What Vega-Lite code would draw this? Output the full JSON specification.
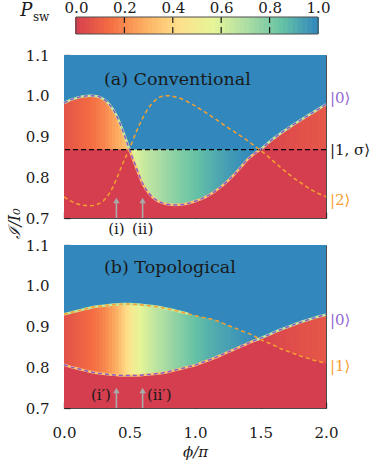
{
"$schema": "https://vega.github.io/schema/vega-lite/v6.json",
"padding": {"left": 5, "top": 0, "right": 0, "bottom": 2},
"background": "white",
"config": {
 "font": "DejaVu Serif",
 "view": {"stroke": "#4d4d4d", "strokeWidth": 1},
 "axis": {"labelFont": "DejaVu Serif", "labelFontSize": 15, "labelColor": "#1a1a1a", "titleFont": "DejaVu Serif", "titleFontSize": 15, "titleFontWeight": "normal", "titleColor": "#1a1a1a", "domain": false, "grid": false, "tickColor": "#262626", "tickWidth": 1.3, "tickSize": -6, "zindex": 1, "labelFlush": false, "labelOverlap": false},
 "text": {"font": "DejaVu Serif", "fontSize": 15, "color": "#1a1a1a"}
},
"datasets": {
 "cbar": [
  {"a":0.00,"b":0.02,"c":0.01},{"a":0.02,"b":0.04,"c":0.03},{"a":0.04,"b":0.06,"c":0.05},{"a":0.06,"b":0.08,"c":0.07},{"a":0.08,"b":0.10,"c":0.09},
  {"a":0.10,"b":0.12,"c":0.11},{"a":0.12,"b":0.14,"c":0.13},{"a":0.14,"b":0.16,"c":0.15},{"a":0.16,"b":0.18,"c":0.17},{"a":0.18,"b":0.20,"c":0.19},
  {"a":0.20,"b":0.22,"c":0.21},{"a":0.22,"b":0.24,"c":0.23},{"a":0.24,"b":0.26,"c":0.25},{"a":0.26,"b":0.28,"c":0.27},{"a":0.28,"b":0.30,"c":0.29},
  {"a":0.30,"b":0.32,"c":0.31},{"a":0.32,"b":0.34,"c":0.33},{"a":0.34,"b":0.36,"c":0.35},{"a":0.36,"b":0.38,"c":0.37},{"a":0.38,"b":0.40,"c":0.39},
  {"a":0.40,"b":0.42,"c":0.41},{"a":0.42,"b":0.44,"c":0.43},{"a":0.44,"b":0.46,"c":0.45},{"a":0.46,"b":0.48,"c":0.47},{"a":0.48,"b":0.50,"c":0.49},
  {"a":0.50,"b":0.52,"c":0.51},{"a":0.52,"b":0.54,"c":0.53},{"a":0.54,"b":0.56,"c":0.55},{"a":0.56,"b":0.58,"c":0.57},{"a":0.58,"b":0.60,"c":0.59},
  {"a":0.60,"b":0.62,"c":0.61},{"a":0.62,"b":0.64,"c":0.63},{"a":0.64,"b":0.66,"c":0.65},{"a":0.66,"b":0.68,"c":0.67},{"a":0.68,"b":0.70,"c":0.69},
  {"a":0.70,"b":0.72,"c":0.71},{"a":0.72,"b":0.74,"c":0.73},{"a":0.74,"b":0.76,"c":0.75},{"a":0.76,"b":0.78,"c":0.77},{"a":0.78,"b":0.80,"c":0.79},
  {"a":0.80,"b":0.82,"c":0.81},{"a":0.82,"b":0.84,"c":0.83},{"a":0.84,"b":0.86,"c":0.85},{"a":0.86,"b":0.88,"c":0.87},{"a":0.88,"b":0.90,"c":0.89},
  {"a":0.90,"b":0.92,"c":0.91},{"a":0.92,"b":0.94,"c":0.93},{"a":0.94,"b":0.96,"c":0.95},{"a":0.96,"b":0.98,"c":0.97},{"a":0.98,"b":1.00,"c":0.99}
 ],
 "colsA": [
  {"a":0,"b":0.025,"p":0.07},{"a":0.025,"b":0.05,"p":0.075},{"a":0.05,"b":0.075,"p":0.085},{"a":0.075,"b":0.1,"p":0.095},
  {"a":0.1,"b":0.125,"p":0.105},{"a":0.125,"b":0.15,"p":0.115},{"a":0.15,"b":0.175,"p":0.125},{"a":0.175,"b":0.2,"p":0.135},
  {"a":0.2,"b":0.225,"p":0.145},{"a":0.225,"b":0.25,"p":0.155},{"a":0.25,"b":0.275,"p":0.17},{"a":0.275,"b":0.3,"p":0.185},
  {"a":0.3,"b":0.325,"p":0.2},{"a":0.325,"b":0.35,"p":0.22},{"a":0.35,"b":0.375,"p":0.24},{"a":0.375,"b":0.4,"p":0.26},
  {"a":0.4,"b":0.425,"p":0.28},{"a":0.425,"b":0.45,"p":0.3},{"a":0.45,"b":0.475,"p":0.32},{"a":0.475,"b":0.5,"p":0.34},
  {"a":0.5,"b":0.525,"p":0.55},{"a":0.525,"b":0.55,"p":0.575},{"a":0.55,"b":0.575,"p":0.6},{"a":0.575,"b":0.6,"p":0.62},
  {"a":0.6,"b":0.625,"p":0.64},{"a":0.625,"b":0.65,"p":0.66},{"a":0.65,"b":0.675,"p":0.675},{"a":0.675,"b":0.7,"p":0.69},
  {"a":0.7,"b":0.725,"p":0.7},{"a":0.725,"b":0.75,"p":0.715},{"a":0.75,"b":0.775,"p":0.73},{"a":0.775,"b":0.8,"p":0.745},
  {"a":0.8,"b":0.825,"p":0.76},{"a":0.825,"b":0.85,"p":0.77},{"a":0.85,"b":0.875,"p":0.785},{"a":0.875,"b":0.9,"p":0.795},
  {"a":0.9,"b":0.925,"p":0.81},{"a":0.925,"b":0.95,"p":0.82},{"a":0.95,"b":0.975,"p":0.83},{"a":0.975,"b":1.0,"p":0.845},
  {"a":1.0,"b":1.025,"p":0.855},{"a":1.025,"b":1.05,"p":0.865},{"a":1.05,"b":1.075,"p":0.875},{"a":1.075,"b":1.1,"p":0.885},
  {"a":1.1,"b":1.125,"p":0.895},{"a":1.125,"b":1.15,"p":0.905},{"a":1.15,"b":1.175,"p":0.915},{"a":1.175,"b":1.2,"p":0.925},
  {"a":1.2,"b":1.225,"p":0.93},{"a":1.225,"b":1.25,"p":0.94},{"a":1.25,"b":1.275,"p":0.95},{"a":1.275,"b":1.3,"p":0.955},
  {"a":1.3,"b":1.325,"p":0.965},{"a":1.325,"b":1.35,"p":0.97},{"a":1.35,"b":1.375,"p":0.98},{"a":1.375,"b":1.4,"p":0.985},
  {"a":1.4,"b":1.425,"p":0.99},{"a":1.425,"b":1.45,"p":1},{"a":1.45,"b":1.475,"p":1},{"a":1.475,"b":1.5,"p":1},
  {"a":1.5,"b":1.525,"p":0.01},{"a":1.525,"b":1.55,"p":0.015},{"a":1.55,"b":1.575,"p":0.02},{"a":1.575,"b":1.6,"p":0.025},
  {"a":1.6,"b":1.625,"p":0.03},{"a":1.625,"b":1.65,"p":0.035},{"a":1.65,"b":1.675,"p":0.04},{"a":1.675,"b":1.7,"p":0.04},
  {"a":1.7,"b":1.725,"p":0.045},{"a":1.725,"b":1.75,"p":0.05},{"a":1.75,"b":1.775,"p":0.05},{"a":1.775,"b":1.8,"p":0.055},
  {"a":1.8,"b":1.825,"p":0.06},{"a":1.825,"b":1.85,"p":0.06},{"a":1.85,"b":1.875,"p":0.065},{"a":1.875,"b":1.9,"p":0.065},
  {"a":1.9,"b":1.925,"p":0.07},{"a":1.925,"b":1.95,"p":0.07},{"a":1.95,"b":1.975,"p":0.075},{"a":1.975,"b":2.0,"p":0.075}
 ],
 "colsB": [
  {"a":0,"b":0.025,"p":0.06},{"a":0.025,"b":0.05,"p":0.07},{"a":0.05,"b":0.075,"p":0.08},{"a":0.075,"b":0.1,"p":0.09},
  {"a":0.1,"b":0.125,"p":0.1},{"a":0.125,"b":0.15,"p":0.11},{"a":0.15,"b":0.175,"p":0.12},{"a":0.175,"b":0.2,"p":0.13},
  {"a":0.2,"b":0.225,"p":0.14},{"a":0.225,"b":0.25,"p":0.15},{"a":0.25,"b":0.275,"p":0.165},{"a":0.275,"b":0.3,"p":0.18},
  {"a":0.3,"b":0.325,"p":0.2},{"a":0.325,"b":0.35,"p":0.22},{"a":0.35,"b":0.375,"p":0.245},{"a":0.375,"b":0.4,"p":0.27},
  {"a":0.4,"b":0.425,"p":0.3},{"a":0.425,"b":0.45,"p":0.34},{"a":0.45,"b":0.475,"p":0.38},{"a":0.475,"b":0.5,"p":0.42},
  {"a":0.5,"b":0.525,"p":0.46},{"a":0.525,"b":0.55,"p":0.5},{"a":0.55,"b":0.575,"p":0.535},{"a":0.575,"b":0.6,"p":0.565},
  {"a":0.6,"b":0.625,"p":0.59},{"a":0.625,"b":0.65,"p":0.615},{"a":0.65,"b":0.675,"p":0.635},{"a":0.675,"b":0.7,"p":0.655},
  {"a":0.7,"b":0.725,"p":0.675},{"a":0.725,"b":0.75,"p":0.69},{"a":0.75,"b":0.775,"p":0.705},{"a":0.775,"b":0.8,"p":0.72},
  {"a":0.8,"b":0.825,"p":0.74},{"a":0.825,"b":0.85,"p":0.755},{"a":0.85,"b":0.875,"p":0.77},{"a":0.875,"b":0.9,"p":0.785},
  {"a":0.9,"b":0.925,"p":0.8},{"a":0.925,"b":0.95,"p":0.815},{"a":0.95,"b":0.975,"p":0.83},{"a":0.975,"b":1.0,"p":0.845},
  {"a":1.0,"b":1.025,"p":0.86},{"a":1.025,"b":1.05,"p":0.87},{"a":1.05,"b":1.075,"p":0.88},{"a":1.075,"b":1.1,"p":0.89},
  {"a":1.1,"b":1.125,"p":0.9},{"a":1.125,"b":1.15,"p":0.905},{"a":1.15,"b":1.175,"p":0.915},{"a":1.175,"b":1.2,"p":0.92},
  {"a":1.2,"b":1.225,"p":0.93},{"a":1.225,"b":1.25,"p":0.935},{"a":1.25,"b":1.275,"p":0.94},{"a":1.275,"b":1.3,"p":0.95},
  {"a":1.3,"b":1.325,"p":0.955},{"a":1.325,"b":1.35,"p":0.96},{"a":1.35,"b":1.375,"p":0.97},{"a":1.375,"b":1.4,"p":0.975},
  {"a":1.4,"b":1.425,"p":0.98},{"a":1.425,"b":1.45,"p":0.99},{"a":1.45,"b":1.475,"p":1},{"a":1.475,"b":1.5,"p":1},
  {"a":1.5,"b":1.525,"p":0.01},{"a":1.525,"b":1.55,"p":0.015},{"a":1.55,"b":1.575,"p":0.02},{"a":1.575,"b":1.6,"p":0.025},
  {"a":1.6,"b":1.625,"p":0.03},{"a":1.625,"b":1.65,"p":0.035},{"a":1.65,"b":1.675,"p":0.04},{"a":1.675,"b":1.7,"p":0.04},
  {"a":1.7,"b":1.725,"p":0.045},{"a":1.725,"b":1.75,"p":0.05},{"a":1.75,"b":1.775,"p":0.05},{"a":1.775,"b":1.8,"p":0.055},
  {"a":1.8,"b":1.825,"p":0.06},{"a":1.825,"b":1.85,"p":0.06},{"a":1.85,"b":1.875,"p":0.065},{"a":1.875,"b":1.9,"p":0.065},
  {"a":1.9,"b":1.925,"p":0.07},{"a":1.925,"b":1.95,"p":0.07},{"a":1.95,"b":1.975,"p":0.075},{"a":1.975,"b":2.0,"p":0.075}
 ],
 "curvesA": [
  {"x":0,"pu":0.982,"or":0.752,"lo":0.868,"hi":0.982},
  {"x":0.05,"pu":0.99,"or":0.742,"lo":0.868,"hi":0.99},
  {"x":0.1,"pu":0.995,"or":0.735,"lo":0.868,"hi":0.995},
  {"x":0.15,"pu":0.999,"or":0.731,"lo":0.868,"hi":0.999},
  {"x":0.2,"pu":1.0,"or":0.73,"lo":0.868,"hi":1.0},
  {"x":0.25,"pu":0.999,"or":0.733,"lo":0.868,"hi":0.999},
  {"x":0.3,"pu":0.992,"or":0.742,"lo":0.868,"hi":0.992},
  {"x":0.35,"pu":0.977,"or":0.762,"lo":0.868,"hi":0.977},
  {"x":0.4,"pu":0.952,"or":0.795,"lo":0.868,"hi":0.952},
  {"x":0.45,"pu":0.913,"or":0.835,"lo":0.868,"hi":0.913},
  {"x":0.5,"pu":0.868,"or":0.87,"lo":0.868,"hi":0.868},
  {"x":0.55,"pu":0.825,"or":0.91,"lo":0.825,"hi":0.868},
  {"x":0.6,"pu":0.785,"or":0.945,"lo":0.785,"hi":0.868},
  {"x":0.65,"pu":0.76,"or":0.972,"lo":0.76,"hi":0.868},
  {"x":0.7,"pu":0.745,"or":0.99,"lo":0.745,"hi":0.868},
  {"x":0.75,"pu":0.737,"or":0.999,"lo":0.737,"hi":0.868},
  {"x":0.8,"pu":0.733,"or":1.0,"lo":0.733,"hi":0.868},
  {"x":0.85,"pu":0.732,"or":0.997,"lo":0.732,"hi":0.868},
  {"x":0.9,"pu":0.733,"or":0.992,"lo":0.733,"hi":0.868},
  {"x":0.95,"pu":0.736,"or":0.984,"lo":0.736,"hi":0.868},
  {"x":1.0,"pu":0.741,"or":0.975,"lo":0.741,"hi":0.868},
  {"x":1.05,"pu":0.747,"or":0.965,"lo":0.747,"hi":0.868},
  {"x":1.1,"pu":0.755,"or":0.955,"lo":0.755,"hi":0.868},
  {"x":1.15,"pu":0.765,"or":0.944,"lo":0.765,"hi":0.868},
  {"x":1.2,"pu":0.777,"or":0.933,"lo":0.777,"hi":0.868},
  {"x":1.25,"pu":0.791,"or":0.922,"lo":0.791,"hi":0.868},
  {"x":1.3,"pu":0.807,"or":0.912,"lo":0.807,"hi":0.868},
  {"x":1.35,"pu":0.825,"or":0.901,"lo":0.825,"hi":0.868},
  {"x":1.4,"pu":0.843,"or":0.89,"lo":0.843,"hi":0.868},
  {"x":1.45,"pu":0.857,"or":0.878,"lo":0.857,"hi":0.868},
  {"x":1.5,"pu":0.868,"or":0.866,"lo":0.868,"hi":0.868},
  {"x":1.55,"pu":0.882,"or":0.853,"lo":0.868,"hi":0.882},
  {"x":1.6,"pu":0.895,"or":0.839,"lo":0.868,"hi":0.895},
  {"x":1.65,"pu":0.907,"or":0.825,"lo":0.868,"hi":0.907},
  {"x":1.7,"pu":0.918,"or":0.812,"lo":0.868,"hi":0.918},
  {"x":1.75,"pu":0.929,"or":0.799,"lo":0.868,"hi":0.929},
  {"x":1.8,"pu":0.939,"or":0.788,"lo":0.868,"hi":0.939},
  {"x":1.85,"pu":0.949,"or":0.777,"lo":0.868,"hi":0.949},
  {"x":1.9,"pu":0.959,"or":0.767,"lo":0.868,"hi":0.959},
  {"x":1.95,"pu":0.969,"or":0.759,"lo":0.868,"hi":0.969},
  {"x":2.0,"pu":0.979,"or":0.752,"lo":0.868,"hi":0.979}
 ],
 "curvesB": [
  {"x":0,"pu":0.806,"or":0.93,"lo":0.806,"hi":0.93},
  {"x":0.05,"pu":0.801,"or":0.934,"lo":0.801,"hi":0.934},
  {"x":0.1,"pu":0.797,"or":0.938,"lo":0.797,"hi":0.938},
  {"x":0.15,"pu":0.793,"or":0.942,"lo":0.793,"hi":0.942},
  {"x":0.2,"pu":0.789,"or":0.946,"lo":0.789,"hi":0.946},
  {"x":0.25,"pu":0.786,"or":0.949,"lo":0.786,"hi":0.949},
  {"x":0.3,"pu":0.784,"or":0.951,"lo":0.784,"hi":0.951},
  {"x":0.35,"pu":0.782,"or":0.953,"lo":0.782,"hi":0.953},
  {"x":0.4,"pu":0.781,"or":0.954,"lo":0.781,"hi":0.954},
  {"x":0.45,"pu":0.78,"or":0.955,"lo":0.78,"hi":0.955},
  {"x":0.5,"pu":0.78,"or":0.955,"lo":0.78,"hi":0.955},
  {"x":0.55,"pu":0.78,"or":0.954,"lo":0.78,"hi":0.954},
  {"x":0.6,"pu":0.781,"or":0.953,"lo":0.781,"hi":0.953},
  {"x":0.65,"pu":0.782,"or":0.951,"lo":0.782,"hi":0.951},
  {"x":0.7,"pu":0.784,"or":0.949,"lo":0.784,"hi":0.949},
  {"x":0.75,"pu":0.786,"or":0.946,"lo":0.786,"hi":0.946},
  {"x":0.8,"pu":0.789,"or":0.943,"lo":0.789,"hi":0.943},
  {"x":0.85,"pu":0.793,"or":0.939,"lo":0.793,"hi":0.939},
  {"x":0.9,"pu":0.797,"or":0.935,"lo":0.797,"hi":0.935},
  {"x":0.95,"pu":0.801,"or":0.931,"lo":0.801,"hi":0.931},
  {"x":1.0,"pu":0.805,"or":0.927,"lo":0.805,"hi":0.927},
  {"x":1.05,"pu":0.811,"or":0.923,"lo":0.811,"hi":0.923},
  {"x":1.1,"pu":0.817,"or":0.92,"lo":0.817,"hi":0.92},
  {"x":1.15,"pu":0.823,"or":0.916,"lo":0.823,"hi":0.916},
  {"x":1.2,"pu":0.83,"or":0.91,"lo":0.83,"hi":0.91},
  {"x":1.25,"pu":0.837,"or":0.903,"lo":0.837,"hi":0.903},
  {"x":1.3,"pu":0.844,"or":0.897,"lo":0.844,"hi":0.897},
  {"x":1.35,"pu":0.851,"or":0.89,"lo":0.851,"hi":0.89},
  {"x":1.4,"pu":0.858,"or":0.884,"lo":0.858,"hi":0.884},
  {"x":1.45,"pu":0.865,"or":0.877,"lo":0.865,"hi":0.877},
  {"x":1.5,"pu":0.871,"or":0.868,"lo":0.868,"hi":0.871},
  {"x":1.55,"pu":0.878,"or":0.861,"lo":0.861,"hi":0.878},
  {"x":1.6,"pu":0.885,"or":0.854,"lo":0.854,"hi":0.885},
  {"x":1.65,"pu":0.892,"or":0.846,"lo":0.846,"hi":0.892},
  {"x":1.7,"pu":0.898,"or":0.84,"lo":0.84,"hi":0.898},
  {"x":1.75,"pu":0.904,"or":0.834,"lo":0.834,"hi":0.904},
  {"x":1.8,"pu":0.91,"or":0.828,"lo":0.828,"hi":0.91},
  {"x":1.85,"pu":0.915,"or":0.823,"lo":0.823,"hi":0.915},
  {"x":1.9,"pu":0.92,"or":0.818,"lo":0.818,"hi":0.92},
  {"x":1.95,"pu":0.925,"or":0.814,"lo":0.814,"hi":0.925},
  {"x":2.0,"pu":0.929,"or":0.81,"lo":0.81,"hi":0.929}
 ]
},
"bounds": "flush",
"spacing": 21,
"vconcat": [
 {
  "width": 262, "height": 17,
  "view": {"stroke": null},
  "layer": [
   {"data": {"name": "cbar"}, "mark": {"type": "rect", "strokeWidth": 2, "clip": true},
    "encoding": {
     "x": {"field": "a", "type": "quantitative", "scale": {"domain": [-0.0496, 1.0331], "nice": false, "zero": false},
       "axis": {"orient": "top", "values": [0, 0.2, 0.4, 0.6, 0.8, 1], "format": ".1f", "ticks": false, "labelPadding": 2, "title": null}},
     "x2": {"field": "b"},
     "color": {"field": "c", "type": "quantitative", "legend": null, "scale": {"domain": [0,0.142857,0.285714,0.428571,0.571429,0.714286,0.857143,1], "range": ["#d53e4f","#f46d43","#fdae61","#fee08b","#e6f598","#abdda4","#66c2a5","#3288bd"], "interpolate": "rgb"}},
     "stroke": {"field": "c", "type": "quantitative", "legend": null, "scale": {"domain": [0,0.142857,0.285714,0.428571,0.571429,0.714286,0.857143,1], "range": ["#d53e4f","#f46d43","#fdae61","#fee08b","#e6f598","#abdda4","#66c2a5","#3288bd"], "interpolate": "rgb"}}
    }},
   {"data": {"values": [{"a": 0.2}, {"a": 0.4}, {"a": 0.6}, {"a": 0.8}]}, "mark": {"type": "rule", "color": "#1a1a1a", "strokeWidth": 1.2, "strokeDash": [6, 4]},
    "encoding": {"x": {"field": "a", "type": "quantitative"}}},
   {"data": {"values": [{"a": 0, "b": 1}]}, "mark": {"type": "rect", "filled": false, "color": "#4d4d4d", "strokeWidth": 1},
    "encoding": {"x": {"field": "a", "type": "quantitative"}, "x2": {"field": "b"}}},
   {"data": {"values": [{"t": "P", "a": -0.23, "y": 1.33}]}, "mark": {"type": "text", "align": "left", "baseline": "middle", "font": "DejaVu Serif", "fontSize": 18, "fontStyle": "italic"},
    "encoding": {"x": {"field": "a", "type": "quantitative"}, "y": {"field": "y", "type": "quantitative", "scale": {"domain": [0, 1], "nice": false, "zero": false}, "axis": null}, "text": {"field": "t"}}},
   {"data": {"values": [{"t": "sw", "a": -0.178, "y": 1.0}]}, "mark": {"type": "text", "align": "left", "baseline": "middle", "font": "DejaVu Serif", "fontSize": 12},
    "encoding": {"x": {"field": "a", "type": "quantitative"}, "y": {"field": "y", "type": "quantitative"}, "text": {"field": "t"}}}
  ]
 },
 {
  "bounds": "flush",
  "spacing": 27,
  "vconcat": [
   {
    "width": 262, "height": 163,
    "layer": [
     {"data": {"name": "colsA"}, "mark": {"type": "rect", "strokeWidth": 2, "clip": true},
      "encoding": {
       "x": {"field": "a", "type": "quantitative", "scale": {"domain": [0, 2], "nice": false, "zero": false}, "axis": {"values": [0, 0.5, 1, 1.5, 2], "labels": false, "title": null}},
       "x2": {"field": "b"},
       "color": {"field": "p", "type": "quantitative", "legend": null, "scale": {"domain": [0,0.142857,0.285714,0.428571,0.571429,0.714286,0.857143,1], "range": ["#d53e4f","#f46d43","#fdae61","#fee08b","#e6f598","#abdda4","#66c2a5","#3288bd"], "interpolate": "rgb"}},
       "stroke": {"field": "p", "type": "quantitative", "legend": null, "scale": {"domain": [0,0.142857,0.285714,0.428571,0.571429,0.714286,0.857143,1], "range": ["#d53e4f","#f46d43","#fdae61","#fee08b","#e6f598","#abdda4","#66c2a5","#3288bd"], "interpolate": "rgb"}}
      }},
     {"data": {"name": "curvesA"}, "mark": {"type": "area", "color": "#3288bd", "interpolate": "monotone"},
      "encoding": {
       "x": {"field": "x", "type": "quantitative"},
       "y": {"field": "hi", "type": "quantitative", "stack": null, "scale": {"domain": [0.7, 1.1], "nice": false, "zero": false},
         "axis": {"values": [0.7, 0.8, 0.9, 1.0, 1.1], "format": ".1f", "labelPadding": 21, "title": "ℐ/I₀", "titleFontStyle": "italic", "titleFontSize": 16, "titleX": -50, "titleY": 168, "titleAlign": "center", "titleBaseline": "middle", "titleAngle": 270}},
       "y2": {"datum": 1.1}
      }},
     {"data": {"name": "curvesA"}, "mark": {"type": "area", "color": "#d53e4f", "interpolate": "monotone"},
      "encoding": {"x": {"field": "x", "type": "quantitative"}, "y": {"field": "lo", "type": "quantitative", "stack": null}, "y2": {"datum": 0.7}}},
     {"data": {"name": "curvesA"}, "transform": [{"filter": "datum.x <= 0.5"}], "mark": {"type": "line", "color": "#c5e89d", "strokeWidth": 2.5, "interpolate": "monotone"},
      "encoding": {"x": {"field": "x", "type": "quantitative"}, "y": {"field": "pu", "type": "quantitative"}}},
     {"data": {"name": "curvesA"}, "transform": [{"filter": "datum.x >= 0.5 && datum.x <= 1.5"}], "mark": {"type": "line", "color": "#fdc372", "strokeWidth": 2.5, "interpolate": "monotone"},
      "encoding": {"x": {"field": "x", "type": "quantitative"}, "y": {"field": "pu", "type": "quantitative"}}},
     {"data": {"name": "curvesA"}, "transform": [{"filter": "datum.x >= 1.5"}], "mark": {"type": "line", "color": "#c5e89d", "strokeWidth": 2.5, "interpolate": "monotone"},
      "encoding": {"x": {"field": "x", "type": "quantitative"}, "y": {"field": "pu", "type": "quantitative"}}},
     {"data": {"values": [{"y": 0.868}]}, "mark": {"type": "rule", "color": "#000000", "strokeWidth": 1.3, "strokeDash": [5, 3]},
      "encoding": {"y": {"field": "y", "type": "quantitative"}}},
     {"data": {"name": "curvesA"}, "mark": {"type": "line", "color": "#f5a030", "strokeWidth": 1.5, "strokeDash": [4, 3], "interpolate": "monotone"},
      "encoding": {"x": {"field": "x", "type": "quantitative"}, "y": {"field": "or", "type": "quantitative"}}},
     {"data": {"name": "curvesA"}, "mark": {"type": "line", "color": "#8a5cc8", "strokeWidth": 1.5, "strokeDash": [4, 3], "interpolate": "monotone"},
      "encoding": {"x": {"field": "x", "type": "quantitative"}, "y": {"field": "pu", "type": "quantitative"}}},
     {"data": {"values": [{"x": 0.4, "y": 0.7, "y2": 0.738}, {"x": 0.6, "y": 0.7, "y2": 0.738}]}, "mark": {"type": "rule", "color": "#aaaaaa", "strokeWidth": 1.6},
      "encoding": {"x": {"field": "x", "type": "quantitative"}, "y": {"field": "y", "type": "quantitative"}, "y2": {"field": "y2"}}},
     {"data": {"values": [{"x": 0.4, "y": 0.743}, {"x": 0.6, "y": 0.743}]}, "mark": {"type": "point", "shape": "triangle-up", "filled": true, "size": 40, "color": "#aaaaaa", "opacity": 1},
      "encoding": {"x": {"field": "x", "type": "quantitative"}, "y": {"field": "y", "type": "quantitative"}}},
     {"data": {"values": [{"x": 0.4, "y": 0.673, "t": "(i)"}, {"x": 0.6, "y": 0.673, "t": "(ii)"}]}, "mark": {"type": "text", "align": "center", "baseline": "middle", "font": "DejaVu Serif", "fontSize": 15},
      "encoding": {"x": {"field": "x", "type": "quantitative"}, "y": {"field": "y", "type": "quantitative"}, "text": {"field": "t"}}},
     {"data": {"values": [{"x": 0.305, "y": 1.039, "t": "(a) Conventional"}]}, "mark": {"type": "text", "align": "left", "baseline": "middle", "font": "DejaVu Serif", "fontSize": 17.5},
      "encoding": {"x": {"field": "x", "type": "quantitative"}, "y": {"field": "y", "type": "quantitative"}, "text": {"field": "t"}}},
     {"data": {"values": [{"x": 2.03, "y": 0.994, "t": "|0⟩", "k": "pu"}, {"x": 2.03, "y": 0.868, "t": "|1, σ⟩", "k": "bk"}, {"x": 2.03, "y": 0.745, "t": "|2⟩", "k": "or"}]}, "mark": {"type": "text", "align": "left", "baseline": "middle", "font": "DejaVu Serif", "fontSize": 15},
      "encoding": {"x": {"field": "x", "type": "quantitative"}, "y": {"field": "y", "type": "quantitative"}, "text": {"field": "t"},
       "fill": {"field": "k", "type": "nominal", "legend": null, "scale": {"domain": ["pu", "bk", "or"], "range": ["#9467d0", "#1a1a1a", "#f5a030"]}}}}
    ]
   },
   {
    "width": 262, "height": 163,
    "layer": [
     {"data": {"name": "colsB"}, "mark": {"type": "rect", "strokeWidth": 2, "clip": true},
      "encoding": {
       "x": {"field": "a", "type": "quantitative", "scale": {"domain": [0, 2], "nice": false, "zero": false}, "axis": {"values": [0, 0.5, 1, 1.5, 2], "format": ".1f", "labelPadding": 23, "title": "ϕ/π", "titleFontStyle": "italic", "titleFontSize": 15, "titlePadding": 4}},
       "x2": {"field": "b"},
       "color": {"field": "p", "type": "quantitative", "legend": null, "scale": {"domain": [0,0.142857,0.285714,0.428571,0.571429,0.714286,0.857143,1], "range": ["#d53e4f","#f46d43","#fdae61","#fee08b","#e6f598","#abdda4","#66c2a5","#3288bd"], "interpolate": "rgb"}},
       "stroke": {"field": "p", "type": "quantitative", "legend": null, "scale": {"domain": [0,0.142857,0.285714,0.428571,0.571429,0.714286,0.857143,1], "range": ["#d53e4f","#f46d43","#fdae61","#fee08b","#e6f598","#abdda4","#66c2a5","#3288bd"], "interpolate": "rgb"}}
      }},
     {"data": {"name": "curvesB"}, "mark": {"type": "area", "color": "#3288bd", "interpolate": "monotone"},
      "encoding": {
       "x": {"field": "x", "type": "quantitative"},
       "y": {"field": "hi", "type": "quantitative", "stack": null, "scale": {"domain": [0.7, 1.1], "nice": false, "zero": false},
         "axis": {"values": [0.7, 0.8, 0.9, 1.0, 1.1], "format": ".1f", "labelPadding": 21, "title": null}},
       "y2": {"datum": 1.1}
      }},
     {"data": {"name": "curvesB"}, "mark": {"type": "area", "color": "#d53e4f", "interpolate": "monotone"},
      "encoding": {"x": {"field": "x", "type": "quantitative"}, "y": {"field": "lo", "type": "quantitative", "stack": null}, "y2": {"datum": 0.7}}},
     {"data": {"name": "curvesB"}, "transform": [{"filter": "datum.x <= 0.95"}], "mark": {"type": "line", "color": "#c5e89d", "strokeWidth": 2.5, "interpolate": "monotone"},
      "encoding": {"x": {"field": "x", "type": "quantitative"}, "y": {"field": "or", "type": "quantitative"}}},
     {"data": {"name": "curvesB"}, "transform": [{"filter": "datum.x <= 1.5"}], "mark": {"type": "line", "color": "#fdc372", "strokeWidth": 2.5, "interpolate": "monotone"},
      "encoding": {"x": {"field": "x", "type": "quantitative"}, "y": {"field": "pu", "type": "quantitative"}}},
     {"data": {"name": "curvesB"}, "transform": [{"filter": "datum.x >= 1.45"}], "mark": {"type": "line", "color": "#c5e89d", "strokeWidth": 2.5, "interpolate": "monotone"},
      "encoding": {"x": {"field": "x", "type": "quantitative"}, "y": {"field": "pu", "type": "quantitative"}}},
     {"data": {"name": "curvesB"}, "mark": {"type": "line", "color": "#f5a030", "strokeWidth": 1.5, "strokeDash": [4, 3], "interpolate": "monotone"},
      "encoding": {"x": {"field": "x", "type": "quantitative"}, "y": {"field": "or", "type": "quantitative"}}},
     {"data": {"name": "curvesB"}, "mark": {"type": "line", "color": "#8a5cc8", "strokeWidth": 1.5, "strokeDash": [4, 3], "interpolate": "monotone"},
      "encoding": {"x": {"field": "x", "type": "quantitative"}, "y": {"field": "pu", "type": "quantitative"}}},
     {"data": {"values": [{"x": 0.4, "y": 0.7, "y2": 0.738}, {"x": 0.6, "y": 0.7, "y2": 0.738}]}, "mark": {"type": "rule", "color": "#aaaaaa", "strokeWidth": 1.6},
      "encoding": {"x": {"field": "x", "type": "quantitative"}, "y": {"field": "y", "type": "quantitative"}, "y2": {"field": "y2"}}},
     {"data": {"values": [{"x": 0.4, "y": 0.743}, {"x": 0.6, "y": 0.743}]}, "mark": {"type": "point", "shape": "triangle-up", "filled": true, "size": 40, "color": "#aaaaaa", "opacity": 1},
      "encoding": {"x": {"field": "x", "type": "quantitative"}, "y": {"field": "y", "type": "quantitative"}}},
     {"data": {"values": [{"x": 0.282, "y": 0.733, "t": "(i′)"}, {"x": 0.727, "y": 0.733, "t": "(ii′)"}]}, "mark": {"type": "text", "align": "center", "baseline": "middle", "font": "DejaVu Serif", "fontSize": 15},
      "encoding": {"x": {"field": "x", "type": "quantitative"}, "y": {"field": "y", "type": "quantitative"}, "text": {"field": "t"}}},
     {"data": {"values": [{"x": 0.305, "y": 1.044, "t": "(b) Topological"}]}, "mark": {"type": "text", "align": "left", "baseline": "middle", "font": "DejaVu Serif", "fontSize": 17.5},
      "encoding": {"x": {"field": "x", "type": "quantitative"}, "y": {"field": "y", "type": "quantitative"}, "text": {"field": "t"}}},
     {"data": {"values": [{"x": 2.03, "y": 0.917, "t": "|0⟩", "k": "pu"}, {"x": 2.03, "y": 0.802, "t": "|1⟩", "k": "or"}]}, "mark": {"type": "text", "align": "left", "baseline": "middle", "font": "DejaVu Serif", "fontSize": 15},
      "encoding": {"x": {"field": "x", "type": "quantitative"}, "y": {"field": "y", "type": "quantitative"}, "text": {"field": "t"},
       "fill": {"field": "k", "type": "nominal", "legend": null, "scale": {"domain": ["pu", "or"], "range": ["#9467d0", "#f5a030"]}}}}
    ]
   }
  ]
 }
]
}
